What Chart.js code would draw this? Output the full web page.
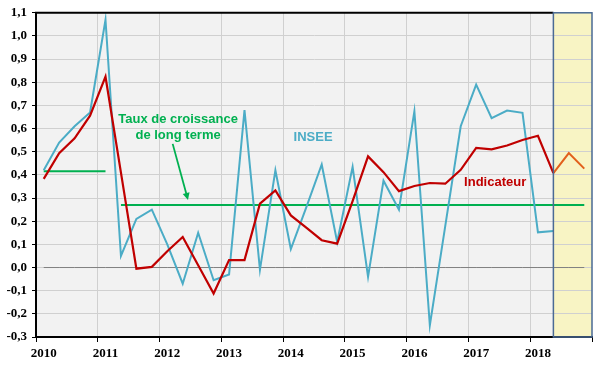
<!DOCTYPE html>
<html>
<head>
<meta charset="utf-8">
<script src="https://cdn.jsdelivr.net/npm/chart.js@4.4.0/dist/chart.umd.min.js"></script>
<style>
  body { margin: 0; background: #ffffff; }
  canvas { display: block; }
</style>
</head>
<body>
<canvas id="myChart" width="600" height="370"></canvas>
<script>
// données trimestrielles 2010T1 - 2018T4
var years = ['2010', '2011', '2012', '2013', '2014', '2015', '2016', '2017', '2018'];
var quarterLabels = [];
years.forEach(function(y) {
	['T1', 'T2', 'T3', 'T4'].forEach(function(q) { quarterLabels.push(q + ' ' + y); });
});

var insee = [0.42, 0.54, 0.61, 0.67, 1.07, 0.05, 0.21, 0.25, 0.10, -0.07, 0.15, -0.055,
	-0.03, 0.68, -0.01, 0.42, 0.08, 0.26, 0.445, 0.11, 0.435, -0.04, 0.375, 0.25,
	0.675, -0.25, 0.18, 0.61, 0.79, 0.645, 0.678, 0.668, 0.152, 0.158, null, null];

var indicateur = [0.383, 0.494, 0.558, 0.656, 0.824, 0.41, -0.005, 0.003, 0.07, 0.132, 0.01, -0.112,
	0.032, 0.032, 0.276, 0.333, 0.225, 0.172, 0.118, 0.103, 0.287, 0.48, 0.412, 0.33,
	0.352, 0.365, 0.362, 0.422, 0.517, 0.51, 0.527, 0.551, 0.569, 0.408, null, null];

var prevision = [null, null, null, null, null, null, null, null, null, null, null, null,
	null, null, null, null, null, null, null, null, null, null, null, null,
	null, null, null, null, null, null, null, null, null, 0.408, 0.494, 0.427];

var tendanceAvant = [0.416, 0.416, 0.416, 0.416, 0.416, null, null, null, null, null, null, null,
	null, null, null, null, null, null, null, null, null, null, null, null,
	null, null, null, null, null, null, null, null, null, null, null, null];

var tendance = [null, null, null, null, null, 0.27, 0.27, 0.27, 0.27, 0.27, 0.27, 0.27,
	0.27, 0.27, 0.27, 0.27, 0.27, 0.27, 0.27, 0.27, 0.27, 0.27, 0.27, 0.27,
	0.27, 0.27, 0.27, 0.27, 0.27, 0.27, 0.27, 0.27, 0.27, 0.27, 0.27, 0.27];

var zeroLine = quarterLabels.map(function() { return 0; });

var forecastStart = 33; // début de la zone de prévision (index trimestre)

var BLUE = '#4bacc6';
var RED = '#c00000';
var ORANGE = '#e2601c';
var GREEN = '#00b050';

// annotations en coordonnées de données (index trimestre, valeur)
var annotations = [
	{ text: 'Taux de croissance', x: 8.7, y: 0.639, color: GREEN },
	{ text: 'de long terme', x: 8.7, y: 0.570, color: GREEN },
	{ text: 'INSEE', x: 17.44, y: 0.561, color: BLUE },
	{ text: 'Indicateur', x: 29.23, y: 0.369, color: RED }
];
var arrow = { x1: 8.35, y1: 0.534, x2: 9.34, y2: 0.292 };

var bgPlugin = {
	id: 'bgPlugin',
	beforeDraw: function(chart) {
		var ctx = chart.ctx;
		var a = chart.chartArea;
		var xs = chart.scales.x;
		var fx = xs.getPixelForValue(forecastStart);
		ctx.save();
		ctx.fillStyle = '#f2f2f2';
		ctx.fillRect(a.left, a.top, a.right - a.left, a.bottom - a.top);
		ctx.fillStyle = '#f8f4c4';
		ctx.fillRect(fx, a.top, a.right - fx, a.bottom - a.top);
		ctx.restore();
	},
	afterDraw: function(chart) {
		var ctx = chart.ctx;
		var a = chart.chartArea;
		var xs = chart.scales.x;
		var ys = chart.scales.y;
		var fx = xs.getPixelForValue(forecastStart);
		ctx.save();
		// bordure haute
		ctx.strokeStyle = '#000000';
		ctx.lineWidth = 2;
		ctx.beginPath();
		ctx.moveTo(a.left - 1, a.top);
		ctx.lineTo(fx, a.top);
		ctx.stroke();
		// cadre de la zone de prévision
		ctx.strokeStyle = '#4a6a94';
		ctx.lineWidth = 1.5;
		ctx.strokeRect(fx, a.top, a.right - fx, a.bottom - a.top);

		// textes
		ctx.font = 'bold 13px Arial, "Liberation Sans", sans-serif';
		ctx.textAlign = 'center';
		ctx.textBaseline = 'middle';
		annotations.forEach(function(item) {
			ctx.fillStyle = item.color;
			ctx.fillText(item.text, xs.getPixelForValue(item.x), ys.getPixelForValue(item.y));
		});

		// flèche
		var x1 = xs.getPixelForValue(arrow.x1), y1 = ys.getPixelForValue(arrow.y1);
		var x2 = xs.getPixelForValue(arrow.x2), y2 = ys.getPixelForValue(arrow.y2);
		var ang = Math.atan2(y2 - y1, x2 - x1);
		ctx.strokeStyle = GREEN;
		ctx.fillStyle = GREEN;
		ctx.lineWidth = 1.8;
		ctx.beginPath();
		ctx.moveTo(x1, y1);
		ctx.lineTo(x2 - 5 * Math.cos(ang), y2 - 5 * Math.sin(ang));
		ctx.stroke();
		ctx.beginPath();
		ctx.moveTo(x2, y2);
		ctx.lineTo(x2 - 7 * Math.cos(ang) + 3.5 * Math.sin(ang), y2 - 7 * Math.sin(ang) - 3.5 * Math.cos(ang));
		ctx.lineTo(x2 - 7 * Math.cos(ang) - 3.5 * Math.sin(ang), y2 - 7 * Math.sin(ang) + 3.5 * Math.cos(ang));
		ctx.closePath();
		ctx.fill();
		ctx.restore();
	}
};

function lineSet(data, color, width) {
	return {
		data: data,
		borderColor: color,
		borderWidth: width,
		pointRadius: 0,
		fill: false,
		tension: 0,
		spanGaps: false
	};
}

var tickFont = { family: '"Times New Roman", "Liberation Serif", serif', size: 13, weight: 'bold' };

var config = {
	type: 'line',
	data: {
		labels: quarterLabels,
		datasets: [
			lineSet(indicateur, RED, 2.2),
			lineSet(prevision, ORANGE, 2),
			lineSet(insee, BLUE, 2),
			lineSet(tendanceAvant, GREEN, 2),
			lineSet(tendance, GREEN, 2),
			lineSet(zeroLine, '#808080', 1)
		]
	},
	options: {
		responsive: false,
		animation: false,
		layout: { padding: { top: 12, right: 8, left: 0, bottom: 0 } },
		plugins: { legend: { display: false }, tooltip: { enabled: false } },
		scales: {
			x: {
				type: 'category',
				offset: true,
				grid: {
					offset: true,
					drawTicks: true,
					tickLength: 5,
					color: function(c) { return (c.index !== undefined && c.index % 4 === 0) ? '#d0d0d0' : 'rgba(0,0,0,0)'; },
					tickColor: function(c) { return (c.index === undefined || c.index % 4 === 0) ? '#000000' : 'rgba(0,0,0,0)'; }
				},
				border: { display: true, color: '#000000', width: 2 },
				ticks: {
					autoSkip: false,
					maxRotation: 0,
					color: '#000000',
					font: tickFont,
					padding: 4,
					callback: function(v, i) { return i % 4 === 0 ? years[i / 4] : ''; }
				},
				afterFit: function(scale) { scale.height = 33; }
			},
			y: {
				min: -0.3,
				max: 1.1,
				grid: { color: '#d0d0d0', tickLength: 4, tickColor: '#000000' },
				border: { display: true, color: '#000000', width: 2 },
				ticks: {
					stepSize: 0.1,
					color: '#000000',
					font: tickFont,
					padding: 5,
					callback: function(v) { return v.toFixed(1).replace('.', ','); }
				},
				afterFit: function(scale) { scale.width = 36; }
			}
		}
	},
	plugins: [bgPlugin]
};

var myChart = new Chart(document.getElementById('myChart'), config);
</script>
</body>
</html>
